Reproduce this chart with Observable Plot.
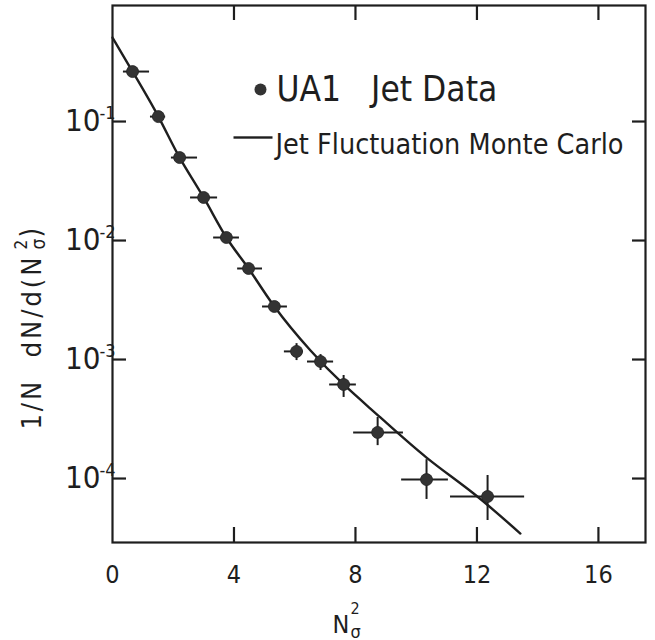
<!DOCTYPE html>
<html><head><meta charset="utf-8">
<script src="https://cdn.jsdelivr.net/npm/d3@7"></script>
<script src="https://cdn.jsdelivr.net/npm/@observablehq/plot@0.6"></script>
<style>
html,body{margin:0;padding:0;background:#fff;}
#chart svg{display:block;}
g[font-size="27"] text{letter-spacing:3px;}
</style></head><body><div id="chart"></div>
<script>
// ---- data ----
const xData = [0.66, 1.51, 2.21, 3.00, 3.75, 4.48, 5.33, 6.06, 6.85, 7.61, 8.73, 10.34, 12.35];
const yData = [0.263, 0.110, 0.0498, 0.0230, 0.0106, 0.00582, 0.00279, 0.00117, 0.000962, 0.000617, 0.000244, 9.8e-5, 7.06e-5];
const xErrLo = [0.36, 1.25, 1.94, 2.57, 3.33, 4.12, 4.94, 5.66, 6.42, 7.15, 7.94, 9.52, 11.13];
const xErrHi = [1.22, 1.75, 2.80, 3.46, 4.18, 4.94, 5.76, 6.29, 7.28, 8.03, 9.58, 11.06, 13.57];
const yErrLo = [null, null, null, null, null, null, null, 9.8e-4, 8.09e-4, 4.80e-4, 1.89e-4, 6.67e-5, 4.44e-5];
const yErrHi = [null, null, null, null, null, null, null, 1.36e-3, 1.10e-3, 7.34e-4, 3.26e-4, 1.44e-4, 1.06e-4];

const mcX = [0, 0.66, 1.51, 2.21, 3.00, 3.75, 4.48, 5.33, 6.52, 7.61, 8.82, 10.34, 11.89, 13.43];
const mcY = [0.508, 0.263, 0.110, 0.0498, 0.0230, 0.0106, 0.00582, 0.00279, 0.00119, 0.000617, 0.000326, 1.50e-4, 7.48e-5, 3.45e-5];

const xTicks = [4, 8, 12, 16];
const xTickLabels = [0, 4, 8, 12, 16];
const yTicks = [1e-1, 1e-2, 1e-3, 1e-4];
const yTickExps = ["-1", "-2", "-3", "-4"];

const legendData = "UA1\u00a0\u00a0\u00a0Jet Data";
const legendMC = "Jet Fluctuation Monte Carlo";
const yLabelMain = "1/N\u00a0\u00a0dN/d(N";
const yLabelSup = "2";
const yLabelSub = "σ";
const yLabelClose = ")";
const xLabelMain = "N";
const xLabelSup = "2";
const xLabelSub = "σ";

// ---- tables ----
const pts = xData.map((x, i) => ({x, y: yData[i], xlo: xErrLo[i], xhi: xErrHi[i]}));
const vbars = xData.map((x, i) => ({x, ylo: yErrLo[i], yhi: yErrHi[i]})).filter(d => d.ylo != null);
const mc = mcX.map((x, i) => ({x, y: mcY[i]}));
const yTickData = yTicks.map((v, i) => ({v, e: yTickExps[i]}));

const W = 655, H = 640;
const mL = 112, mR = 10, mT = 5, mB = 98;
const pw = W - mL - mR, ph = H - mT - mB;
const ink = "#1e1e1e";
const font = "'DejaVu Sans Condensed', 'DejaVu Sans', sans-serif";

const chart = Plot.plot({
  width: W, height: H,
  marginLeft: mL, marginRight: mR, marginTop: mT, marginBottom: mB,
  style: {fontFamily: font, background: "#fff", color: ink, fontStretch: "condensed"},
  x: {domain: [0, 17.55], axis: null},
  y: {type: "log", domain: [2.9e-5, 0.944], axis: null},
  marks: [
    Plot.frame({stroke: ink, strokeWidth: 2.2}),
    // inward ticks
    Plot.tickX(xTicks, {x: d => d, insetTop: ph - 15, stroke: ink, strokeWidth: 2.2}),
    Plot.tickX(xTicks, {x: d => d, insetBottom: ph - 15, stroke: ink, strokeWidth: 2.2}),
    Plot.tickY(yTicks, {y: d => d, insetRight: pw - 14, stroke: ink, strokeWidth: 2.2}),
    Plot.tickY(yTicks, {y: d => d, insetLeft: pw - 13, stroke: ink, strokeWidth: 2.2}),
    // tick labels
    Plot.text(xTickLabels, {x: d => d, text: d => String(d), frameAnchor: "bottom", lineAnchor: "bottom", dy: 40, fontSize: 25, fill: ink}),
    Plot.text(yTickData, {y: "v", text: () => "10", frameAnchor: "left", textAnchor: "end", dx: -12, fontSize: 31, fill: ink}),
    Plot.text(yTickData, {y: "v", text: "e", frameAnchor: "left", textAnchor: "start", lineAnchor: "bottom", dx: -13, dy: -3, fontSize: 18, fill: ink}),
    // axis labels
    Plot.text([yLabelMain], {text: d => d, frameAnchor: "left", rotate: -90, textAnchor: "end", lineAnchor: "bottom", dx: 40 - mL, dy: 254 - (mT + ph / 2), fontSize: 27, fill: ink}),
    Plot.text([yLabelSup], {text: d => d, frameAnchor: "left", rotate: -90, textAnchor: "start", lineAnchor: "bottom", dx: 26 - mL, dy: 249 - (mT + ph / 2), fontSize: 17, fill: ink}),
    Plot.text([yLabelSub], {text: d => d, frameAnchor: "left", rotate: -90, textAnchor: "start", lineAnchor: "bottom", dx: 44 - mL, dy: 249 - (mT + ph / 2), fontSize: 19, fill: ink}),
    Plot.text([yLabelClose], {text: d => d, frameAnchor: "left", rotate: -90, textAnchor: "start", lineAnchor: "bottom", dx: 40 - mL, dy: 237 - (mT + ph / 2), fontSize: 27.5, fill: ink}),
    Plot.text([xLabelMain], {text: d => d, frameAnchor: "bottom", textAnchor: "start", lineAnchor: "bottom", dx: 332 - (mL + pw / 2), dy: 90, fontSize: 25, fill: ink}),
    Plot.text([xLabelSup], {text: d => d, frameAnchor: "bottom", textAnchor: "start", lineAnchor: "bottom", dx: 350 - (mL + pw / 2), dy: 71, fontSize: 16, fill: ink}),
    Plot.text([xLabelSub], {text: d => d, frameAnchor: "bottom", textAnchor: "start", lineAnchor: "bottom", dx: 350 - (mL + pw / 2), dy: 95, fontSize: 18, fill: ink}),
    // data
    Plot.line(mc, {x: "x", y: "y", curve: "natural", stroke: ink, strokeWidth: 2.4}),
    Plot.ruleY(pts, {y: "y", x1: "xlo", x2: "xhi", stroke: ink, strokeWidth: 2}),
    Plot.ruleX(vbars, {x: "x", y1: "ylo", y2: "yhi", stroke: ink, strokeWidth: 2}),
    Plot.dot(pts, {x: "x", y: "y", r: 6, fill: "#333", stroke: "#222", strokeWidth: 0.8}),
    // legend
    Plot.dot([legendData], {frameAnchor: "top-left", dx: 260 - mL, dy: 89 - mT, r: 6, fill: "#333"}),
    Plot.text([legendData], {text: d => d, frameAnchor: "top-left", textAnchor: "start", lineAnchor: "bottom", dx: 276 - mL, dy: 100 - mT, fontSize: 35, fill: ink}),
    Plot.frame({fill: ink, stroke: null, insetLeft: 233 - mL, insetRight: (mL + pw) - 272, insetTop: 135.8 - mT, insetBottom: (mT + ph) - 138.2}),
    Plot.text([legendMC], {text: d => d, frameAnchor: "top-left", textAnchor: "start", lineAnchor: "bottom", dx: 275 - mL, dy: 153 - mT, fontSize: 28.5, fill: ink})
  ]
});
document.getElementById("chart").appendChild(chart);
</script>
</body></html>
